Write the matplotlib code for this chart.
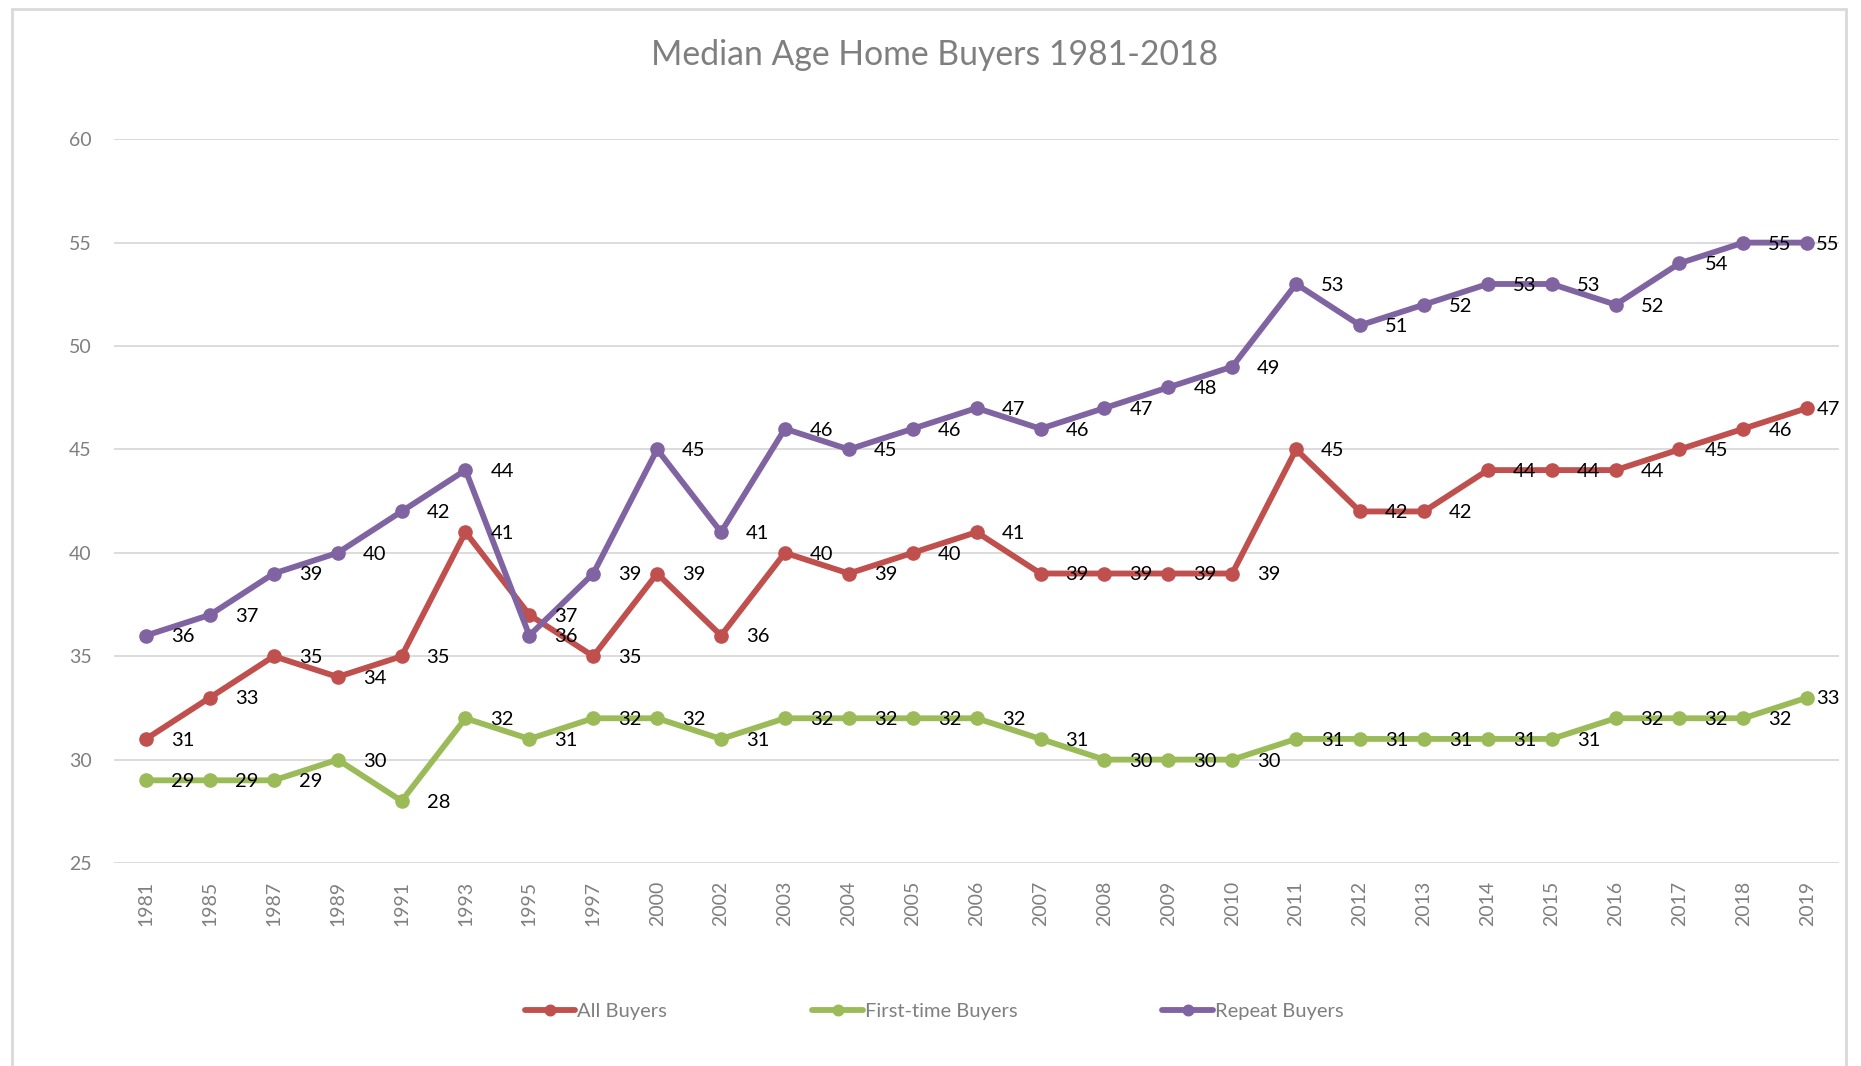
import matplotlib
matplotlib.use("Agg")
import matplotlib.pyplot as plt
from matplotlib.patches import Rectangle

plt.rcParams['font.family'] = ['Lato', 'DejaVu Sans']

years = ['1981', '1985', '1987', '1989', '1991', '1993', '1995', '1997', '2000', '2002',
         '2003', '2004', '2005', '2006', '2007', '2008', '2009', '2010', '2011', '2012',
         '2013', '2014', '2015', '2016', '2017', '2018', '2019']

all_buyers = [31, 33, 35, 34, 35, 41, 37, 35, 39, 36,
              40, 39, 40, 41, 39, 39, 39, 39, 45, 42,
              42, 44, 44, 44, 45, 46, 47]
first_time = [29, 29, 29, 30, 28, 32, 31, 32, 32, 31,
              32, 32, 32, 32, 31, 30, 30, 30, 31, 31,
              31, 31, 31, 32, 32, 32, 33]
repeat = [36, 37, 39, 40, 42, 44, 36, 39, 45, 41,
          46, 45, 46, 47, 46, 47, 48, 49, 53, 51,
          52, 53, 53, 52, 54, 55, 55]

series = [('All Buyers', all_buyers, '#c0504d'),
          ('First-time Buyers', first_time, '#9bbb59'),
          ('Repeat Buyers', repeat, '#8064a2')]

fig = plt.figure(figsize=(18.61, 10.66), dpi=100)
ax = fig.add_axes([0.0613, 0.1904, 0.927, 0.679])

x = range(len(years))
for name, vals, col in series:
    ax.plot(x, vals, color=col, lw=4.2, marker='o', ms=9.5, label=name,
            solid_capstyle='round', zorder=3)
    for i, v in enumerate(vals):
        dx = 9 if i == len(vals) - 1 else 25
        ax.annotate(str(v), (i, v), xytext=(dx * 0.72, -1), textcoords='offset points',
                    ha='left', va='center', fontsize=14.5, color='black', zorder=4)

ax.set_xlim(-0.5, len(years) - 0.5)
ax.set_ylim(25, 60)
ax.set_yticks(range(25, 61, 5))
ax.set_xticks(list(x))
ax.set_xticklabels(years, rotation=90)
ax.grid(axis='y', color='#d9d9d9', lw=1.3)
ax.set_axisbelow(True)
for s in ax.spines.values():
    s.set_visible(False)
ax.tick_params(axis='both', length=0, labelsize=14, labelcolor='#7f7f7f')
ax.tick_params(axis='y', pad=16)
ax.tick_params(axis='x', pad=13)

fig.text(0.502, 0.948, 'Median Age Home Buyers 1981-2018', ha='center', va='center',
         fontsize=24.3, color='#7f7f7f')

fig.legend(loc='center', bbox_to_anchor=(0.502, 0.051), ncol=3, frameon=False,
           fontsize=14.5, labelcolor='#7f7f7f', handlelength=2.5, handletextpad=0.1,
           columnspacing=7.2, markerscale=0.8)

# chart border
fig.patches.append(Rectangle((12 / 1861, -0.05), (1846 - 12) / 1861, 1.05 - 9 / 1066,
                             transform=fig.transFigure, fill=False,
                             edgecolor='#d9d9d9', lw=2))

fig.savefig('out.png', dpi=100, facecolor='white')
